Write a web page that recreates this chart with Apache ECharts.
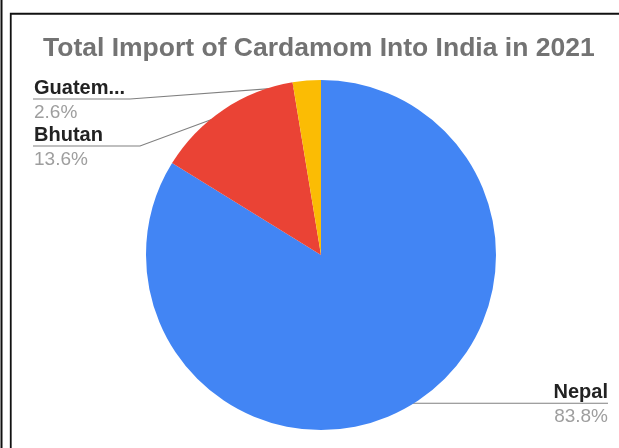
<!DOCTYPE html>
<html>
<head>
<meta charset="utf-8">
<script src="https://cdn.jsdelivr.net/npm/echarts@6/dist/echarts.min.js"></script>
<style>
  html, body { margin: 0; padding: 0; background: #ffffff; }
  #chart { width: 619px; height: 448px; }
</style>
</head>
<body>
<div id="chart"></div>
<script>
// Import shares by country of origin (percent of total)
const countries = ['Nepal', 'Bhutan', 'Guatemala'];
const shares = [83.8, 13.6, 2.6];
const sliceColors = ['#4285f4', '#ea4335', '#fbbc04'];
const chartTitle = 'Total Import of Cardamom Into India in 2021';

// Pie geometry (pixels)
const CX = 321, CY = 255, R = 175;
const FONT = '"Liberation Sans", Arial, Helvetica, sans-serif';

// Callout placement: labels on the left stack from the top, the right one follows its slice
const LEFT_X = 34, RIGHT_X = 608;
const leftSlots = [{ lineY: 99, elbowX: 130 }, { lineY: 146, elbowX: 140 }];
const NAME_H = 21, PCT_H = 27;

function shortName(name) {
  return name.length > 8 ? name.slice(0, 6) + '...' : name;
}

const chart = echarts.init(document.getElementById('chart'), null, { renderer: 'canvas' });

const option = {
  animation: false,
  backgroundColor: '#ffffff',
  title: {
    text: chartTitle,
    left: 38,
    top: 30,
    textStyle: { fontFamily: FONT, fontSize: 26.5, fontWeight: 'bold', color: '#737373' }
  },
  graphic: [
    { type: 'line', shape: { x1: 1.5, y1: 0, x2: 1.5, y2: 448 }, style: { stroke: '#111', lineWidth: 2 } },
    { type: 'rect', shape: { x: 10.75, y: 13.75, width: 700, height: 600 }, style: { fill: 'none', stroke: '#111', lineWidth: 1.8 } }
  ],
  series: [{
    type: 'pie',
    center: [CX, CY],
    radius: R,
    startAngle: 90,
    clockwise: true,
    avoidLabelOverlap: false,
    silent: true,
    emphasis: { disabled: true },
    data: countries.map((c, i) => ({ name: c, value: shares[i], itemStyle: { color: sliceColors[i] } })),
    label: {
      show: true,
      position: 'outside',
      formatter: p => '{n|' + shortName(p.name) + '}\n{p|' + p.value.toFixed(1) + '%}',
      rich: {
        n: { fontFamily: FONT, fontSize: 20, fontWeight: 'bold', color: '#222222', lineHeight: NAME_H },
        p: { fontFamily: FONT, fontSize: 19, color: '#9e9e9e', lineHeight: PCT_H }
      }
    },
    labelLine: { show: true, smooth: false, lineStyle: { color: '#808080', width: 1.2 } },
    labelLayout: function (p) {
      const e = p.labelLinePoints[0];
      // callout lines start just inside the slice rim
      const dot = [CX + (e[0] - CX) * 0.97, CY + (e[1] - CY) * 0.97];
      if (p.dataIndex === 0) {
        const y = dot[1];
        return {
          x: RIGHT_X, y: y - NAME_H, align: 'right', verticalAlign: 'top',
          labelLinePoints: [dot, [dot[0] + 1, y], [RIGHT_X, y]]
        };
      }
      // later slices sit closer to the top, so they take the upper slots
      const slot = leftSlots[countries.length - 1 - p.dataIndex];
      return {
        x: LEFT_X, y: slot.lineY - NAME_H, align: 'left', verticalAlign: 'top',
        labelLinePoints: [dot, [slot.elbowX, slot.lineY], [LEFT_X - 1, slot.lineY]]
      };
    }
  }]
};

chart.setOption(option);
</script>
</body>
</html>
